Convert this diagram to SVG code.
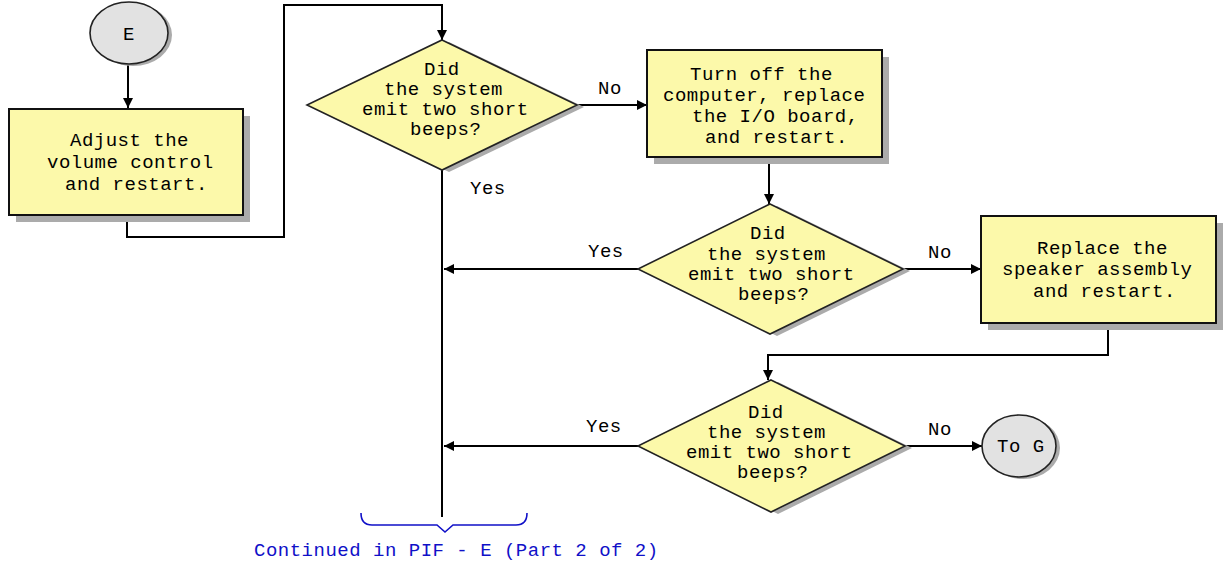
<svg xmlns="http://www.w3.org/2000/svg" width="1225" height="571" viewBox="0 0 1225 571">
<defs>
<style>
text{font-family:"Liberation Mono","DejaVu Sans Mono",monospace;font-size:19px;letter-spacing:0.5px;fill:#000}
.box{fill:#fcf9aa;stroke:#111;stroke-width:2}
.dia{fill:#fcf9aa;stroke:#222;stroke-width:1.6}
.shadow{fill:#ababab}
.term{fill:#e2e2e2;stroke:#222;stroke-width:1.6}
.conn{fill:none;stroke:#000;stroke-width:2}
.blue{fill:#1010c8}
</style>
<marker id="arr" viewBox="0 0 10 10" refX="10" refY="5" markerWidth="10" markerHeight="10" markerUnits="userSpaceOnUse" orient="auto">
<path d="M0,0 L10,5 L0,10 Z" fill="#000"/>
</marker>
</defs>
<rect width="1225" height="571" fill="#fff"/>

<g id="connectors">
<path class="conn" d="M128,64 V108" marker-end="url(#arr)"/>
<path class="conn" d="M127,215 V237 H284 V5 H442 V40" marker-end="url(#arr)"/>
<path class="conn" d="M577,105 H647" marker-end="url(#arr)"/>
<path class="conn" d="M442,170 V517"/>
<path class="conn" d="M769,157 V204" marker-end="url(#arr)"/>
<path class="conn" d="M638,269 H444" marker-end="url(#arr)"/>
<path class="conn" d="M903,269 H981" marker-end="url(#arr)"/>
<path class="conn" d="M1108,323 V355 H768 V380" marker-end="url(#arr)"/>
<path class="conn" d="M638,446 H444" marker-end="url(#arr)"/>
<path class="conn" d="M905,446 H982" marker-end="url(#arr)"/>
<text x="598" y="94">No</text>
<text x="470" y="194">Yes</text>
<text x="588" y="257">Yes</text>
<text x="928" y="258">No</text>
<text x="586" y="432">Yes</text>
<text x="928" y="435">No</text>
</g>

<g id="start-E">
<ellipse class="shadow" cx="133" cy="35" rx="39" ry="31"/>
<ellipse class="term" cx="129" cy="33" rx="39" ry="31"/>
<text x="123" y="40">E</text>
</g>

<g id="adjust-volume">
<rect class="shadow" x="16" y="116" width="234" height="106"/>
<rect class="box" x="9" y="109" width="234" height="106"/>
<text x="70" y="146">Adjust the</text>
<text x="47" y="168">volume control</text>
<text x="65" y="190">and restart.</text>
</g>

<g id="decision-1">
<polygon class="shadow" points="449,42 584,107 449,172 314,107"/>
<polygon class="dia" points="442,40 577,105 442,170 307,105"/>
<text x="424" y="75">Did</text>
<text x="384" y="95">the system</text>
<text x="362" y="115">emit two short</text>
<text x="410" y="135">beeps?</text>
</g>

<g id="replace-io">
<rect class="shadow" x="654" y="57" width="235" height="107"/>
<rect class="box" x="647" y="50" width="235" height="107"/>
<text x="690" y="80">Turn off the</text>
<text x="663" y="101">computer, replace</text>
<text x="692" y="122">the I/O board,</text>
<text x="705" y="143">and restart.</text>
</g>

<g id="decision-2">
<polygon class="shadow" points="777,206 910,271 777,336 645,271"/>
<polygon class="dia" points="770,204 903,269 770,334 638,269"/>
<text x="750" y="239">Did</text>
<text x="707" y="260">the system</text>
<text x="688" y="280">emit two short</text>
<text x="738" y="300">beeps?</text>
</g>

<g id="replace-speaker">
<rect class="shadow" x="988" y="223" width="235" height="107"/>
<rect class="box" x="981" y="216" width="235" height="107"/>
<text x="1037" y="254">Replace the</text>
<text x="1002" y="275">speaker assembly</text>
<text x="1033" y="297">and restart.</text>
</g>

<g id="decision-3">
<polygon class="shadow" points="778,382 912,448 778,514 645,448"/>
<polygon class="dia" points="771,380 905,446 771,512 638,446"/>
<text x="748" y="418">Did</text>
<text x="707" y="438">the system</text>
<text x="686" y="458">emit two short</text>
<text x="737" y="478">beeps?</text>
</g>

<g id="to-G">
<ellipse class="shadow" cx="1023" cy="448" rx="37" ry="31"/>
<ellipse class="term" cx="1019" cy="446" rx="37" ry="31"/>
<text x="997" y="452">To G</text>
</g>

<g id="continued">
<path d="M361,513 Q361,525 372,525 H437 L445,532 L453,525 H516 Q527,525 527,513" fill="none" stroke="#1010c8" stroke-width="1.6"/>
<text class="blue" x="254" y="556">Continued in PIF - E (Part 2 of 2)</text>
</g>
</svg>
